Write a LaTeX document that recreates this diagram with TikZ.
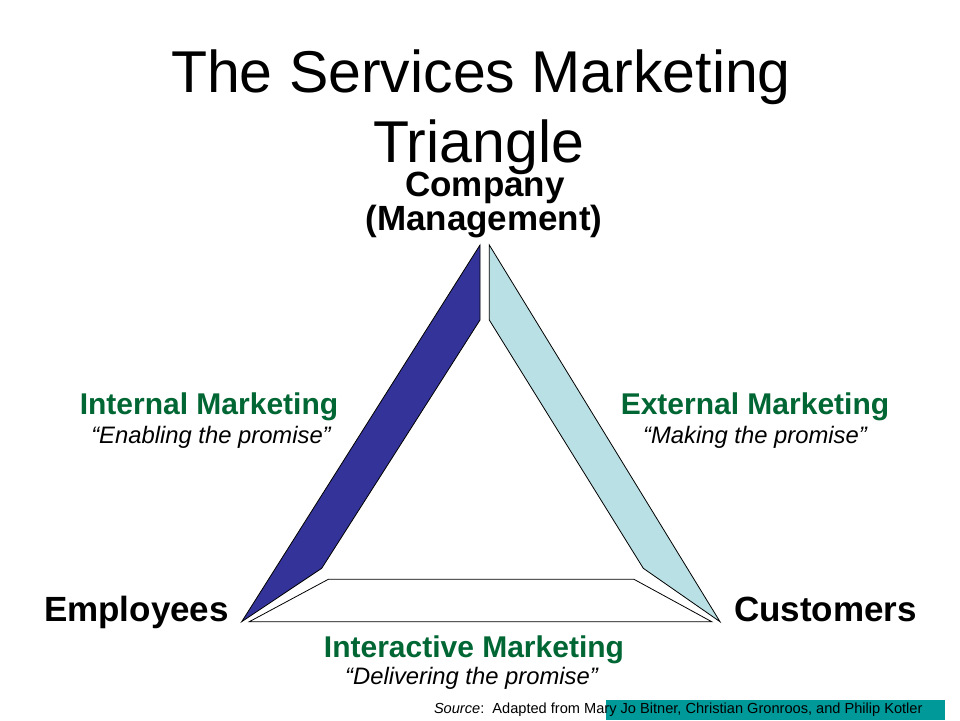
\documentclass[tikz,border=0pt]{standalone}
\usepackage{fontspec}
\setmainfont{Liberation Sans}
\definecolor{bandblue}{RGB}{51,51,153}
\definecolor{bandcyan}{RGB}{185,224,228}
\definecolor{labgreen}{RGB}{0,102,51}
\definecolor{srcteal}{RGB}{0,153,153}
\begin{document}
\begin{tikzpicture}[x=1pt,y=-1pt,
  txt/.style={anchor=base,inner sep=0pt,outer sep=0pt},
  titletxt/.style={txt,font=\fontsize{59}{70}\selectfont},
  cornertxt/.style={txt,font=\fontsize{35}{36}\selectfont\bfseries},
  mkttxt/.style={txt,font=\fontsize{30}{32}\selectfont\bfseries,text=labgreen},
  quotetxt/.style={txt,font=\fontsize{23.8}{26}\selectfont\itshape},
  band/.style={draw=black,line width=0.8pt,line join=miter}
]
\useasboundingbox (0,0) rectangle (960,720);
\fill[white] (0,0) rectangle (960,720);

% source box
\fill[srcteal] (606,700) rectangle (945,720);

% titles
\node[titletxt] (t1) at (481,92) {The Services Marketing};
\node[titletxt] (t2) at (478.5,162) {Triangle};
\node[cornertxt] (comp) at (485,196) {Company};
\node[cornertxt] (mgmt) at (484,230) {(Management)};

% bands
\draw[band,fill=bandblue] (480,245) -- (480,320) -- (321.7,568.3) -- (241.7,621.7) -- cycle;
\draw[band,fill=bandcyan] (489.3,245) -- (489.3,320) -- (643.3,568.3) -- (720,621.7) -- cycle;
\draw[band,fill=white] (249.3,621.7) -- (328.3,579.3) -- (634,579.3) -- (711.7,621.7) -- cycle;

% labels
\node[mkttxt] (im) at (209,414) {Internal Marketing};
\node[quotetxt] (imq) at (211,443) {“Enabling the promise”};
\node[mkttxt] (em) at (755,414) {External Marketing};
\node[quotetxt] (emq) at (755,443) {“Making the promise”};
\node[cornertxt] (emp) at (136.5,621) {Employees};
\node[cornertxt] (cust) at (825.5,621) {Customers};
\node[mkttxt] (ia) at (474,657) {Interactive Marketing};
\node[quotetxt] (iaq) at (471.5,684) {“Delivering the promise”};

% source
\node[txt,anchor=base west,font=\fontsize{14.6}{16}\selectfont] (src) at (434,713)
  {\textit{Source}:\ \ Adapted from Mary Jo Bitner, Christian Gronroos, and Philip Kotler};
\end{tikzpicture}
\end{document}
